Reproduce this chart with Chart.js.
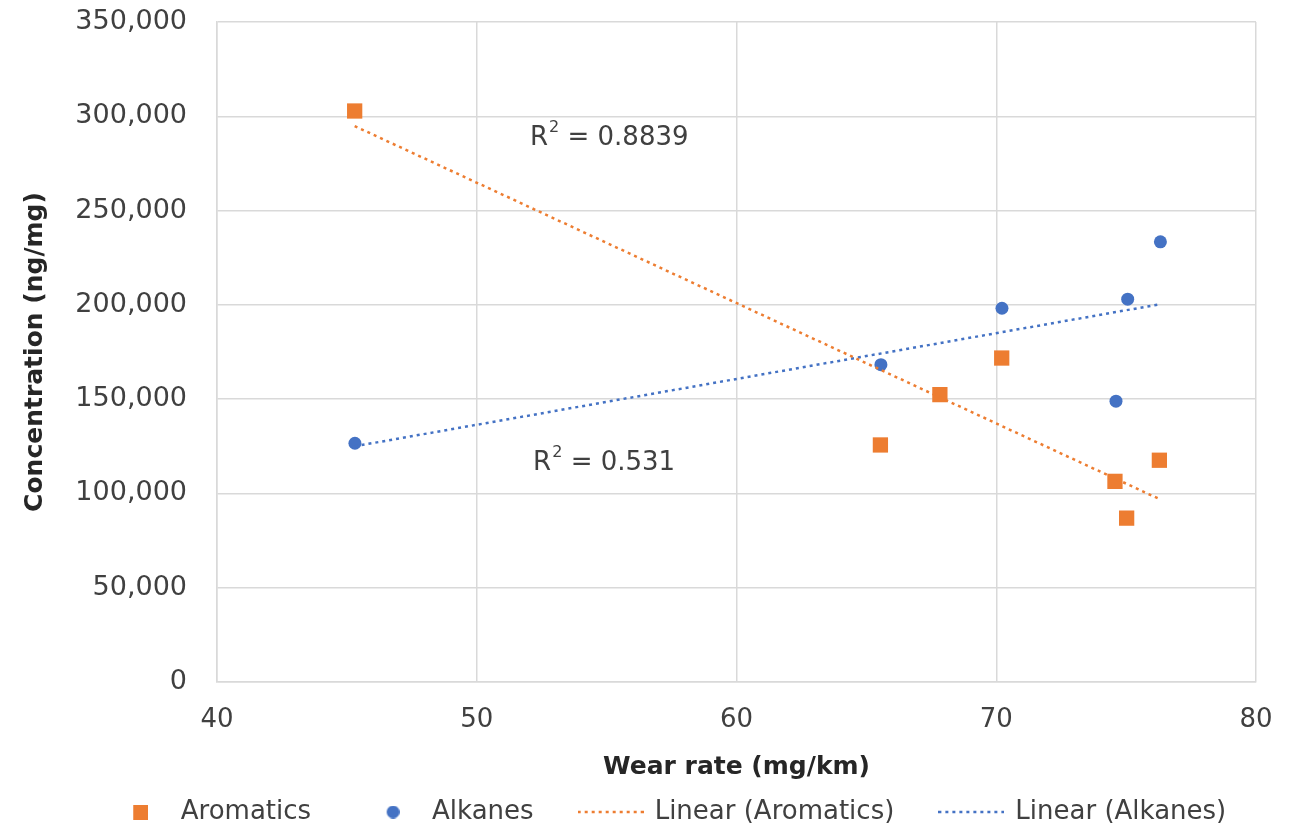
<!DOCTYPE html>
<html>
<head>
<meta charset="utf-8">
<script src="https://cdn.jsdelivr.net/npm/chart.js@4.4.1/dist/chart.umd.min.js"></script>
<style>
  html, body { margin: 0; padding: 0; background: #fff; }
  #wrap { width: 1302px; height: 826px; }
</style>
</head>
<body>
<div id="wrap"><canvas id="chart"></canvas></div>
<script>
// data
const aromaticsX = [45.3, 65.54, 67.83, 70.21, 74.57, 75.02, 76.28];
const aromaticsY = [302800, 125700, 152400, 171800, 106400, 86900, 117600];
const alkanesX = [45.31, 65.56, 70.22, 74.61, 75.06, 76.32];
const alkanesY = [126600, 168300, 198200, 148900, 203000, 233400];

// trendline end points (as drawn in the picture)
const trendX = [45.3, 76.3];
const aromaticsTrendY = [294800, 96900];
const alkanesTrendY = [125000, 200300];

const r2Labels = ['0.8839', '0.531'];

const ORANGE = '#ED7D31';
const BLUE = '#4472C4';
const GRID = '#d9d9d9';
const FONT = 'DejaVu Sans';

const toPoints = (xs, ys) => xs.map((x, i) => ({ x: x, y: ys[i] }));

// small canvases used as legend icons
function legendIcon(kind, color, shift) {
  const c = document.createElement('canvas');
  const ctx = c.getContext('2d');
  if (kind === 'line') {
    c.width = 66; c.height = 6;
    ctx.strokeStyle = color;
    ctx.lineWidth = 2.5;
    ctx.setLineDash([3, 4]);
    ctx.beginPath();
    ctx.moveTo(0, 3);
    ctx.lineTo(66, 3);
    ctx.stroke();
    return c;
  }
  const size = kind === 'rect' ? 15 : 13;
  c.width = size + 2 * Math.abs(shift);
  c.height = size;
  const x0 = shift > 0 ? 2 * shift : 0;
  ctx.fillStyle = color;
  if (kind === 'rect') {
    ctx.fillRect(x0, 0, size, size);
  } else {
    ctx.beginPath();
    ctx.arc(x0 + size / 2, size / 2, size / 2, 0, Math.PI * 2);
    ctx.fill();
  }
  return c;
}

const legendIcons = [
  legendIcon('rect', ORANGE, 4),
  legendIcon('circle', BLUE, 5),
  legendIcon('line', ORANGE, 0),
  legendIcon('line', BLUE, 0)
];

// R² annotations
const r2Plugin = {
  id: 'r2',
  afterDatasetsDraw(chart) {
    const { ctx, scales: { x, y } } = chart;
    const spots = [[52.05, 288400], [52.17, 116000]];
    ctx.save();
    ctx.fillStyle = '#404040';
    ctx.textBaseline = 'middle';
    ctx.textAlign = 'left';
    spots.forEach((s, i) => {
      let px = x.getPixelForValue(s[0]);
      const py = y.getPixelForValue(s[1]);
      ctx.font = '26px "' + FONT + '"';
      ctx.fillText('R', px, py);
      px += ctx.measureText('R').width + 1;
      ctx.font = '16px "' + FONT + '"';
      ctx.fillText('2', px, py - 10);
      px += ctx.measureText('2').width;
      ctx.font = '26px "' + FONT + '"';
      ctx.fillText(' = ' + r2Labels[i], px, py);
    });
    ctx.restore();
  }
};

// nudge the legend box to where the reference has it
const legendShift = {
  id: 'legendShift',
  afterLayout(chart) {
    const lg = chart.legend;
    if (!lg) return;
    lg.left += 38;
    lg.right += 38;
    lg.top += 9;
    lg.bottom += 9;
  }
};

Chart.defaults.font.family = FONT;
Chart.defaults.color = '#404040';

new Chart(document.getElementById('chart'), {
  type: 'scatter',
  data: {
    datasets: [
      {
        label: 'Aromatics',
        data: toPoints(aromaticsX, aromaticsY),
        pointStyle: 'rect',
        pointRadius: 10.8,
        pointHoverRadius: 10.8,
        backgroundColor: ORANGE,
        borderColor: ORANGE,
        borderWidth: 0,
        order: 1
      },
      {
        label: 'Alkanes',
        data: toPoints(alkanesX, alkanesY),
        pointStyle: 'circle',
        pointRadius: 6.5,
        pointHoverRadius: 6.5,
        backgroundColor: BLUE,
        borderColor: BLUE,
        borderWidth: 0,
        order: 2
      },
      {
        label: 'Linear (Aromatics)',
        data: toPoints(trendX, aromaticsTrendY),
        showLine: true,
        pointRadius: 0,
        borderColor: ORANGE,
        borderWidth: 2.5,
        borderDash: [3, 4],
        order: 0
      },
      {
        label: 'Linear (Alkanes)',
        data: toPoints(trendX, alkanesTrendY),
        showLine: true,
        pointRadius: 0,
        borderColor: BLUE,
        borderWidth: 2.5,
        borderDash: [3, 4],
        order: 0
      }
    ]
  },
  options: {
    responsive: true,
    maintainAspectRatio: false,
    animation: false,
    layout: { padding: { top: 22, right: 46, left: 0, bottom: 0 } },
    scales: {
      x: {
        type: 'linear',
        min: 40,
        max: 80,
        ticks: { stepSize: 10, padding: 23, font: { size: 26 }, color: '#404040' },
        grid: { color: GRID, lineWidth: 1.5, drawTicks: false },
        border: { color: GRID, width: 1.5 },
        title: {
          display: true,
          text: 'Wear rate (mg/km)',
          color: '#262626',
          font: { size: 25, weight: 'bold' },
          padding: { top: 0, bottom: -38 }
        },
        afterFit(scale) { scale.height = 62; }
      },
      y: {
        min: 0,
        max: 350000,
        ticks: {
          stepSize: 50000,
          padding: 3,
          font: { size: 27 },
          color: '#404040',
          callback: v => v.toLocaleString('en-US')
        },
        grid: { color: GRID, lineWidth: 1.5, drawTicks: true, tickLength: 27, tickColor: 'rgba(0,0,0,0)' },
        border: { color: GRID, width: 1.5 },
        title: {
          display: true,
          text: 'Concentration (ng/mg)',
          color: '#262626',
          font: { size: 25, weight: 'bold' },
          padding: { top: 20, bottom: 0 }
        },
        afterFit(scale) { scale.width = 217; }
      }
    },
    plugins: {
      tooltip: { enabled: false },
      legend: {
        position: 'bottom',
        labels: {
          usePointStyle: true,
          pointStyleWidth: 62,
          padding: 46,
          font: { size: 26 },
          color: '#404040',
          generateLabels(chart) {
            return chart.data.datasets.map((ds, i) => ({
              text: ds.label,
              pointStyle: legendIcons[i],
              fillStyle: ds.borderColor,
              strokeStyle: ds.borderColor,
              lineWidth: 0,
              fontColor: '#404040',
              hidden: false,
              datasetIndex: i
            }));
          }
        }
      }
    }
  },
  plugins: [r2Plugin, legendShift]
});
</script>
</body>
</html>
